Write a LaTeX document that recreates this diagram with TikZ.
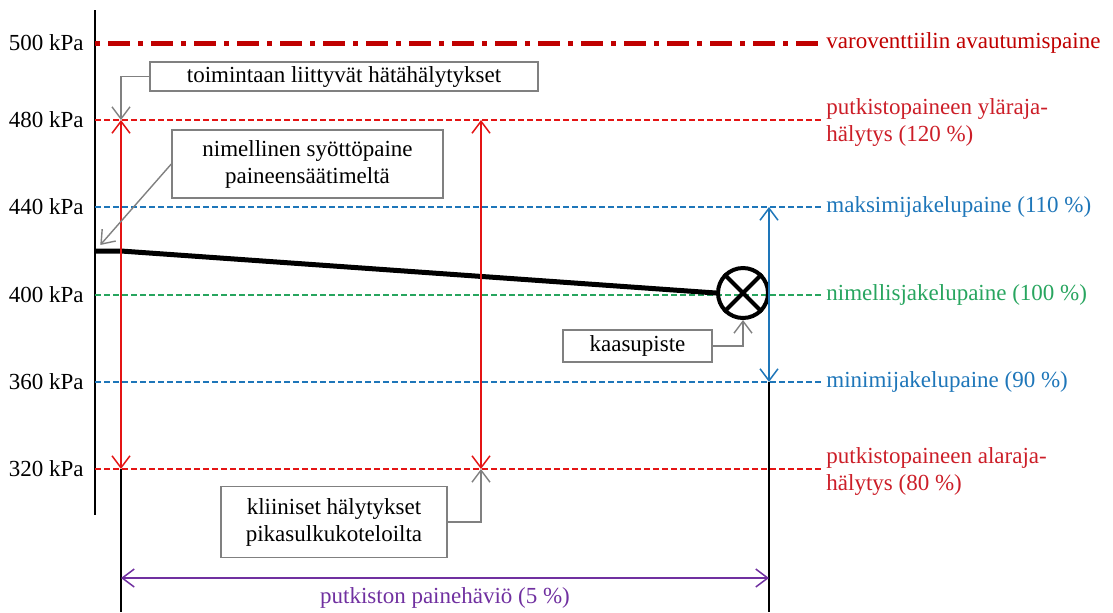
\documentclass[tikz,border=0pt]{standalone}
\usepackage{fontspec}
\setmainfont{Liberation Serif}
\usepackage{xcolor}
\usetikzlibrary{arrows.meta}

\definecolor{darkred}{RGB}{192,0,0}
\definecolor{linered}{RGB}{228,20,20}
\definecolor{txtred}{RGB}{204,30,40}
\definecolor{lvlblue}{RGB}{30,118,185}
\definecolor{lvlgreen}{RGB}{40,165,95}
\definecolor{lvlpurple}{RGB}{112,48,160}
\definecolor{boxgray}{RGB}{128,128,128}

\begin{document}
\begin{tikzpicture}[x=0.5pt, y=-0.5pt,
    font=\fontsize{11.5}{13.5}\selectfont,
    tip/.tip={Straight Barb[length=6pt,width=9pt]},
    level/.style={dashed, dash pattern=on 3pt off 1.5pt, line width=0.75pt},
    lbl/.style={anchor=west, align=left, inner sep=2pt},
    kpa/.style={anchor=east, inner sep=2pt},
    infobox/.style={draw=boxgray, line width=0.7pt, align=center, inner sep=2pt},
    callout/.style={draw=boxgray, line width=0.7pt, -tip}]
    \useasboundingbox (0,0) rectangle (1113,612);

    % Axis
    \coordinate (axtop) at (95,10);
    \coordinate (axbot) at (95,515);
    \draw[line width=1pt] (axtop) -- (axbot);

    % Axis labels
    \node[kpa] (k500) at (88,43) {500 kPa};
    \node[kpa] (k480) at (88,120) {480 kPa};
    \node[kpa] (k440) at (88,207) {440 kPa};
    \node[kpa] (k400) at (88,295) {400 kPa};
    \node[kpa] (k360) at (88,382) {360 kPa};
    \node[kpa] (k320) at (88,469) {320 kPa};

    % Level start points
    \coordinate (s500) at (95,43);
    \coordinate (s480) at (95,120);
    \coordinate (s440) at (95,207);
    \coordinate (s400) at (95,295);
    \coordinate (s360) at (95,382);
    \coordinate (s320) at (95,469);

    % Level labels
    \node[lbl, text=darkred] (t500) at (822,43) {varoventtiilin avautumispaine};
    \node[lbl, text=txtred] (t480) at (822,122) {putkistopaineen yläraja-\\hälytys (120 \%)};
    \node[lbl, text=lvlblue] (t440) at (822,207) {maksimijakelupaine (110 \%)};
    \node[lbl, text=lvlgreen] (t400) at (822,295) {nimellisjakelupaine (100 \%)};
    \node[lbl, text=lvlblue] (t360) at (822,382) {minimijakelupaine (90 \%)};
    \node[lbl, text=txtred] (t320) at (822,471) {putkistopaineen alaraja-\\hälytys (80 \%)};

    % Level lines
    \draw[darkred, line width=2.5pt, dash pattern=on 2.5pt off 4pt on 11pt off 4pt] (s500) -- (t500.west |- s500);
    \draw[level, linered] (s480) -- (t480.west |- s480);
    \draw[level, lvlblue] (s440) -- (t440.west);
    \draw[level, lvlgreen] (s400) -- (t400.west);
    \draw[level, lvlblue] (s360) -- (t360.west);
    \draw[level, linered] (s320) -- (t320.west |- s320);

    % Gas point
    \node[circle, draw, line width=2pt, minimum size=25pt, inner sep=0pt] (gas) at (743,293) {};
    \draw[line width=2pt] (gas.north west) -- (gas.south east);
    \draw[line width=2pt] (gas.north east) -- (gas.south west);

    % Pressure line
    \coordinate (feed) at (95,251);
    \coordinate (reg) at (121,251);
    \draw[line width=2.5pt] (feed) -- (reg) -- (gas.west);

    % Range arrows
    \coordinate (a480) at (121,120);
    \coordinate (a320) at (121,469);
    \coordinate (b480) at (481,120);
    \coordinate (b320) at (481,469);
    \coordinate (c440) at (769,207);
    \coordinate (c360) at (769,382);
    \coordinate (bot1) at (121,612);
    \coordinate (bot2) at (769,612);
    \draw[line width=1pt] (a320) -- (bot1);
    \draw[line width=1pt] (c360) -- (bot2);
    \draw[linered, line width=0.75pt, tip-tip] (a480) -- (a320);
    \draw[linered, line width=0.75pt, tip-tip] (b480) -- (b320);
    \draw[lvlblue, line width=0.75pt, tip-tip] (c440) -- (c360);

    % Pressure loss
    \coordinate (d1) at (121,578);
    \coordinate (d2) at (769,578);
    \draw[lvlpurple, line width=0.75pt, tip-tip] (d1) -- (d2);
    \node[text=lvlpurple] (loss) at (445,598) {putkiston painehäviö (5 \%)};

    % Boxes
    \node[infobox, minimum width=194pt, minimum height=14.5pt] (box1) at (344,76.5) {toimintaan liittyvät hätähälytykset};
    \node[infobox, minimum width=135.5pt, minimum height=34pt] (box2) at (307.5,164) {nimellinen syöttöpaine\\paineensäätimeltä};
    \node[infobox, minimum width=74.5pt, minimum height=16pt] (box3) at (637.5,346) {kaasupiste};
    \node[infobox, minimum width=113pt, minimum height=35.5pt] (box4) at (334,522) {kliiniset hälytykset\\pikasulkukoteloilta};

    % Callouts
    \draw[callout] (box1.west) -| (a480);
    \draw[callout, shorten >=4pt] (box2.west) -- (feed);
    \draw[callout] (box3.east) -| (gas.south);
    \draw[callout] (box4.east) -| (b320);

\end{tikzpicture}
\end{document}
